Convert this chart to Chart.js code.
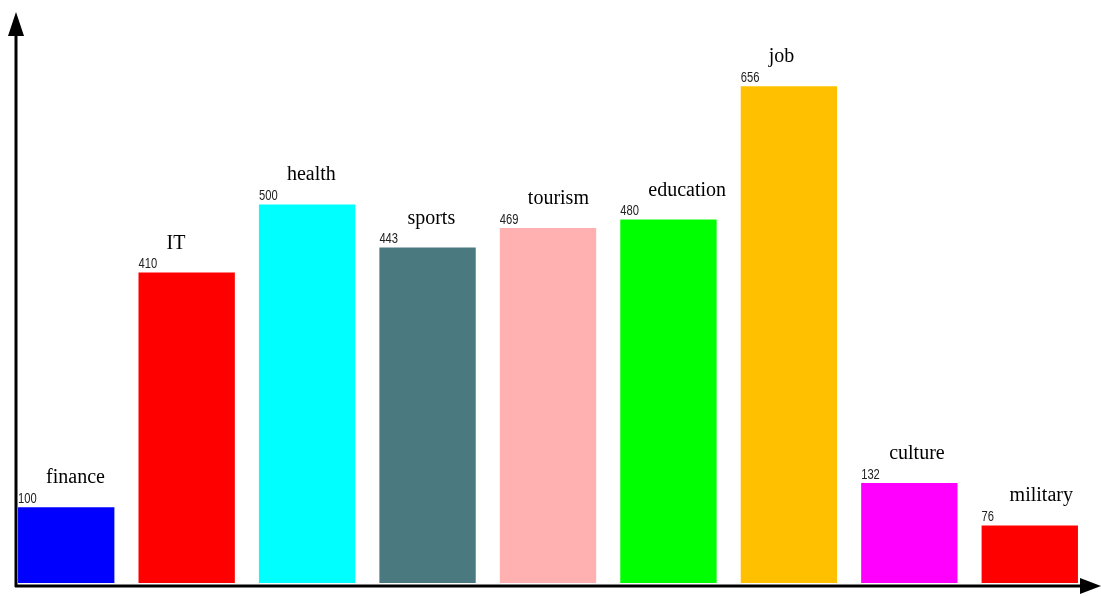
<!DOCTYPE html>
<html>
<head>
<meta charset="utf-8">
<script src="https://cdn.jsdelivr.net/npm/chart.js@4"></script>
<style>
  html, body { margin: 0; padding: 0; background: #fff; }
  #wrap { width: 1101px; height: 597px; position: relative; }
</style>
</head>
<body>
<div id="wrap"><canvas id="barChart"></canvas></div>
<script>
// categories and values
var categories = ["finance", "IT", "health", "sports", "tourism", "education", "job", "culture", "military"];
var values = [100, 410, 500, 443, 469, 480, 656, 132, 76];
var barColors = ["#0000FF", "#FF0000", "#00FFFF", "#4A7A80", "#FFB0B0", "#00FF00", "#FFC000", "#FF00FF", "#FF0000"];

// draws the arrow axes and the labels above each bar
var decorPlugin = {
  id: "decor",
  afterDatasetsDraw: function (chart) {
    var ctx = chart.ctx;
    var area = chart.chartArea;
    var axisX = area.left + 10;
    var axisY = area.bottom + 3;

    ctx.save();
    ctx.strokeStyle = "#000";
    ctx.fillStyle = "#000";
    ctx.lineWidth = 3;
    // y axis
    ctx.beginPath();
    ctx.moveTo(axisX, axisY + 1);
    ctx.lineTo(axisX, 30);
    ctx.stroke();
    ctx.beginPath();
    ctx.moveTo(axisX, 12);
    ctx.lineTo(axisX - 8, 36);
    ctx.lineTo(axisX + 8, 36);
    ctx.closePath();
    ctx.fill();
    // x axis
    ctx.beginPath();
    ctx.moveTo(axisX - 1, axisY);
    ctx.lineTo(1085, axisY);
    ctx.stroke();
    ctx.beginPath();
    ctx.moveTo(1101, axisY);
    ctx.lineTo(1080, axisY - 8);
    ctx.lineTo(1080, axisY + 8);
    ctx.closePath();
    ctx.fill();

    // labels
    var meta = chart.getDatasetMeta(0);
    meta.data.forEach(function (bar, i) {
      var left = bar.x - bar.width / 2;
      // value, squeezed a bit like a narrow font
      ctx.save();
      ctx.translate(left, bar.y - 1);
      ctx.scale(0.8, 1);
      ctx.fillStyle = "#222";
      ctx.font = "14px 'Liberation Sans', Arial, sans-serif";
      ctx.textAlign = "left";
      ctx.textBaseline = "bottom";
      ctx.fillText(String(values[i]), 0, 0);
      ctx.restore();

      ctx.fillStyle = "#000";
      ctx.font = "20px 'Liberation Serif', 'Times New Roman', serif";
      ctx.textAlign = "left";
      ctx.textBaseline = "alphabetic";
      ctx.fillText(categories[i], left + 28, bar.y - 24);
    });
    ctx.restore();
  }
};

var ctx = document.getElementById("barChart").getContext("2d");
var myBarChart = new Chart(ctx, {
  type: "bar",
  data: {
    labels: categories,
    datasets: [
      {
        data: values,
        backgroundColor: barColors,
        borderWidth: 0,
        barPercentage: 0.8,
        categoryPercentage: 1.0,
      },
    ],
  },
  options: {
    responsive: true,
    maintainAspectRatio: false,
    animation: false,
    layout: {
      padding: { left: 6, right: 11, top: 53, bottom: 14 },
    },
    scales: {
      x: { display: false },
      y: { display: false, min: 0, max: 700 },
    },
    plugins: {
      legend: { display: false },
      tooltip: { enabled: false },
    },
  },
  plugins: [decorPlugin],
});
</script>
</body>
</html>
